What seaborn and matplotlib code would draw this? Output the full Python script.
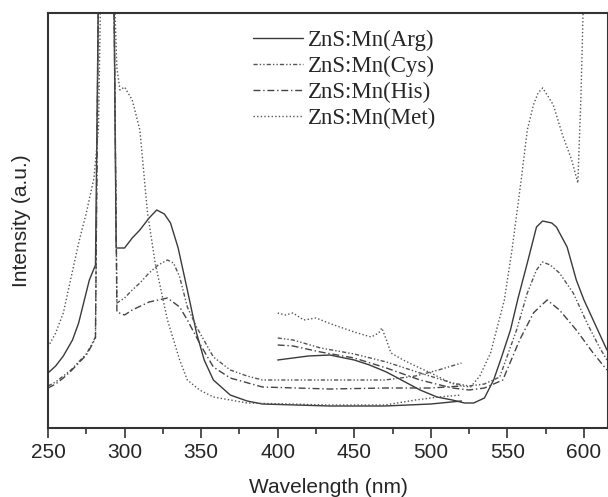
import numpy as np
import pandas as pd
import matplotlib
matplotlib.use("Agg")
import matplotlib.pyplot as plt
import seaborn as sns

# excitation spectra (250-520 nm) (clipped peaks set above ylim)
arg_exc_wl = [250, 255, 260, 266, 270, 277, 281, 283, 293, 294.5, 300, 305, 310, 316, 321, 326, 330, 335, 341, 347, 352, 358, 369, 380, 390, 434, 470, 500, 520]
arg_exc = [55, 62, 72, 88, 105, 148, 163, 450, 450, 180, 180, 190, 198, 210, 218, 214, 205, 180, 138, 95, 68, 48, 33, 27, 24, 22, 22, 24, 27]
cys_exc_wl = [250, 255, 260, 265, 270, 275, 278, 281, 283, 293, 295, 300, 305, 310, 316, 322, 328, 332, 336, 341, 347, 358, 369, 380, 390, 434, 470, 490, 505, 520]
cys_exc = [42, 46, 52, 58, 66, 74, 82, 91, 450, 450, 125, 130, 138, 145, 155, 163, 168, 165, 151, 121, 101, 71, 58, 52, 48, 48, 48, 52, 58, 65]
his_exc_wl = [250, 255, 260, 265, 270, 275, 278, 281, 283, 293, 295, 300, 305, 316, 328, 336, 341, 350, 358, 369, 390, 434, 470, 500, 520]
his_exc = [40, 44, 50, 57, 65, 73, 81, 90, 450, 450, 116, 113, 118, 126, 130, 121, 108, 82, 61, 50, 41, 39, 40, 40, 42]
met_exc_wl = [250, 255, 260, 265, 270, 275, 280, 283, 284.5, 293, 295, 297, 300, 305, 310, 313, 315, 320, 328, 336, 341, 349, 358, 380, 434, 470, 490, 505, 520]
met_exc = [81, 95, 115, 150, 185, 215, 250, 300, 450, 450, 360, 338, 341, 328, 298, 248, 215, 165, 108, 68, 48, 38, 31, 25, 23, 23, 28, 31, 33]

# emission spectra (400-615 nm)
arg_em_wl = [400, 410, 420, 434, 450, 460, 471, 482, 493, 504, 514, 522, 528, 535, 541, 546, 552, 557, 563, 569, 573, 576, 579, 582, 589, 595, 600, 606, 615]
arg_em = [68, 70, 72, 73, 68, 63, 56, 47, 38, 31, 28, 25, 25, 30, 48, 70, 98, 130, 165, 201, 207, 206, 205, 201, 181, 148, 128, 108, 78]
cys_em_wl = [400, 410, 428, 450, 471, 493, 514, 525, 535, 545, 556, 563, 569, 573, 578, 584, 593, 602, 610, 615]
cys_em = [90, 88, 80, 74, 66, 55, 45, 42, 44, 51, 98, 135, 158, 166, 163, 155, 135, 105, 81, 68]
his_em_wl = [400, 410, 428, 450, 471, 493, 514, 525, 535, 547, 558, 567, 571, 576, 584, 595, 606, 615]
his_em = [83, 82, 76, 70, 60, 48, 40, 38, 40, 48, 88, 115, 121, 128, 118, 98, 75, 58]
met_em_wl = [400, 405, 410, 417, 425, 435, 450, 461, 466, 468, 471, 474, 482, 490, 500, 513, 520, 526, 532, 539, 548, 553, 559, 563, 567, 570, 573, 576, 580, 586, 592, 596, 598, 600, 615]
met_em = [115, 113, 115, 108, 110, 104, 96, 91, 95, 100, 88, 75, 68, 62, 55, 45, 42, 41, 52, 75, 128, 178, 248, 298, 323, 335, 340, 333, 323, 293, 268, 245, 330, 450, 600]

labels = ['ZnS:Mn(Arg)', 'ZnS:Mn(Cys)', 'ZnS:Mn(His)', 'ZnS:Mn(Met)']

frames = []
for lab, (xw, yv, xe, ye) in zip(labels, [
        (arg_exc_wl, arg_exc, arg_em_wl, arg_em),
        (cys_exc_wl, cys_exc, cys_em_wl, cys_em),
        (his_exc_wl, his_exc, his_em_wl, his_em),
        (met_exc_wl, met_exc, met_em_wl, met_em)]):
    frames.append(pd.DataFrame({'Wavelength': xw, 'Intensity': yv, 'Sample': lab, 'Part': 'exc'}))
    frames.append(pd.DataFrame({'Wavelength': xe, 'Intensity': ye, 'Sample': lab, 'Part': 'em'}))
df = pd.concat(frames, ignore_index=True)

sns.set_style('ticks')
plt.rcParams['font.family'] = ['Liberation Sans', 'DejaVu Sans']

fig = plt.figure(figsize=(6.08, 4.97), dpi=100)
ax = fig.add_axes([48 / 608, 69 / 497, 560 / 608, 415 / 497])

palette = {'ZnS:Mn(Arg)': '#3a3a3a', 'ZnS:Mn(Cys)': '#555555',
           'ZnS:Mn(His)': '#444444', 'ZnS:Mn(Met)': '#555555'}
dashes = {'ZnS:Mn(Arg)': '', 'ZnS:Mn(Cys)': (3, 1.5, 1, 1.5, 1, 1.5),
          'ZnS:Mn(His)': (5, 2, 1, 2), 'ZnS:Mn(Met)': (1, 1.6)}

sns.lineplot(data=df, x='Wavelength', y='Intensity', hue='Sample', style='Sample',
             units='Part', estimator=None, sort=False, palette=palette, dashes=dashes,
             linewidth=1.0, ax=ax)

ax.set_xlim(250, 615.7)
ax.set_ylim(0, 415)
ax.set_yticks([])
ax.set_xticks([250, 300, 350, 400, 450, 500, 550, 600])
ax.set_xticks(np.arange(275, 615, 50), minor=True)
ax.tick_params(axis='x', which='major', length=7, width=1.2, labelsize=15, color='#333333', pad=4)
ax.tick_params(axis='x', which='minor', length=4, width=1.2, color='#333333')
for s in ['left', 'bottom', 'top', 'right']:
    ax.spines[s].set_linewidth(1.5)
    ax.spines[s].set_color('#333333')
ax.set_xlabel('Wavelength (nm)', fontsize=15, labelpad=11)
ax.set_ylabel('Intensity (a.u.)', fontsize=15, labelpad=12)

handles, labs = ax.get_legend_handles_labels()
ax.legend(handles, labs, loc='upper left', bbox_to_anchor=(0.366, 0.96), frameon=False,
          prop={'family': 'Liberation Serif', 'size': 16.5}, handlelength=2.2,
          handletextpad=0.2, labelspacing=0.22, borderpad=0, borderaxespad=0)

fig.savefig('out.png', dpi=100)
